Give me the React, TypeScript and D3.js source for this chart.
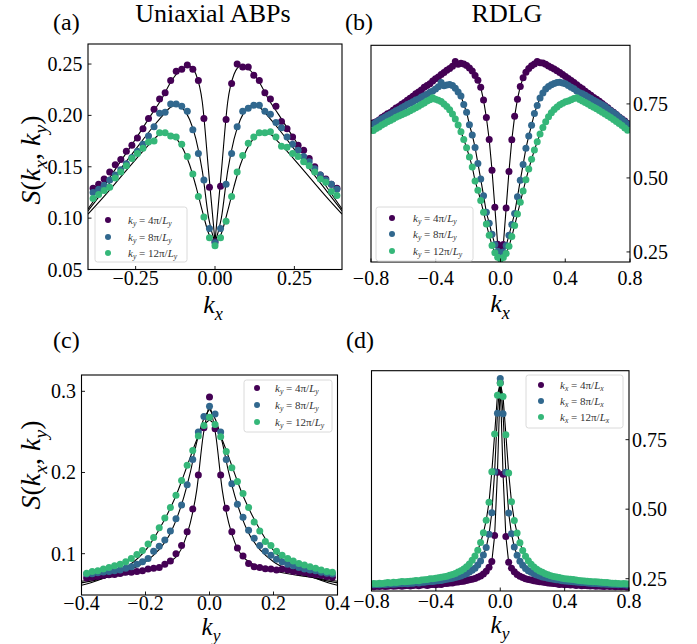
import React from 'react';
import * as d3 from 'd3';

const DK = (2 * Math.PI) / 360;
const nA = d3.range(-22, 23);
const nB = d3.range(-45, 46);
const COLORS = ['#440154', '#31688e', '#35b779'];

// Panel (a) Uniaxial ABPs, S(kx, ky) vs kx
const aPurple = [0.129,0.133,0.138,0.145,0.152,0.157,0.165,0.171,0.178,0.187,
  0.197,0.206,0.216,0.222,0.234,0.243,0.245,0.249,0.245,0.234,
  0.197,0.130,0.077,0.131,0.196,
  0.231,0.250,0.247,0.247,0.239,0.234,0.222,0.216,0.209,0.194,
  0.187,0.179,0.171,0.166,0.158,0.150,0.142,0.138,0.133,0.129];
const aBlue = [0.125,0.128,0.132,0.137,0.142,0.147,0.153,0.159,0.165,0.172,
  0.180,0.189,0.202,0.203,0.211,0.211,0.209,0.204,0.186,0.163,
  0.137,0.090,0.076,0.090,0.133,
  0.163,0.189,0.204,0.207,0.210,0.210,0.204,0.201,0.193,0.188,
  0.179,0.172,0.166,0.160,0.155,0.148,0.142,0.137,0.133,0.128];
const aGreen = [0.119,0.123,0.127,0.130,0.139,0.145,0.151,0.158,0.163,0.168,
  0.174,0.175,0.183,0.183,0.180,0.179,0.172,0.160,0.143,0.121,
  0.101,0.081,0.073,0.081,0.097,
  0.121,0.145,0.161,0.173,0.179,0.183,0.183,0.184,0.179,0.170,
  0.169,0.163,0.160,0.155,0.151,0.145,0.138,0.135,0.126,0.122];
const aFitX = [-0.4,-0.35,-0.3,-0.25,-0.2,-0.17,-0.14,-0.12,-0.1,-0.08,-0.06,-0.04,-0.02,0,0.02,0.04,0.06,0.08,0.1,0.12,0.14,0.17,0.2,0.25,0.3,0.35,0.4];
const aFitPurple = [0.109,0.131,0.154,0.177,0.201,0.215,0.232,0.241,0.246,0.248,0.240,0.213,0.145,0.077,0.145,0.213,0.240,0.248,0.246,0.241,0.232,0.215,0.201,0.177,0.154,0.131,0.109];
const aFitBlue = [0.107,0.127,0.147,0.167,0.187,0.198,0.208,0.210,0.206,0.196,0.177,0.146,0.100,0.076,0.100,0.146,0.177,0.196,0.206,0.210,0.208,0.198,0.187,0.167,0.147,0.127,0.107];
const aFitGreen = [0.104,0.121,0.139,0.157,0.174,0.182,0.182,0.177,0.167,0.152,0.131,0.107,0.085,0.074,0.085,0.107,0.131,0.152,0.167,0.177,0.182,0.182,0.174,0.157,0.139,0.121,0.104];

// Panel (b) RDLG, S vs kx
const bPurple = [0.686,0.690,0.696,0.704,0.710,0.717,0.721,0.729,0.736,0.741,
  0.749,0.755,0.762,0.769,0.776,0.784,0.790,0.797,0.806,0.812,
  0.818,0.827,0.835,0.841,0.849,0.856,0.864,0.870,0.877,0.893,
  0.884,0.887,0.885,0.880,0.871,0.861,0.846,0.830,0.806,0.763,
  0.704,0.630,0.526,0.401,0.276,
  0.262,
  0.275,0.398,0.522,0.629,0.708,
  0.766,0.809,0.838,0.857,0.870,0.879,0.885,0.893,0.889,0.888,
  0.884,0.878,0.873,0.868,0.862,0.856,0.849,0.843,0.836,0.829,
  0.822,0.815,0.807,0.801,0.793,0.786,0.779,0.772,0.766,0.759,
  0.751,0.744,0.737,0.729,0.722,0.714,0.706,0.699,0.692,0.684];
const bBlue = [0.682,0.688,0.694,0.700,0.705,0.711,0.716,0.721,0.727,0.731,
  0.737,0.742,0.748,0.752,0.757,0.763,0.767,0.773,0.778,0.783,
  0.789,0.794,0.800,0.808,0.822,0.811,0.814,0.816,0.812,0.803,
  0.790,0.777,0.748,0.722,0.680,0.645,0.603,0.549,0.496,0.440,
  0.384,0.347,0.310,0.275,0.252,
  0.240,
  0.250,0.272,0.306,0.343,0.380,
  0.436,0.492,0.545,0.600,0.642,0.678,0.718,0.745,0.770,0.787,
  0.800,0.809,0.815,0.819,0.822,0.823,0.821,0.818,0.812,0.806,
  0.801,0.794,0.788,0.784,0.779,0.773,0.768,0.762,0.757,0.752,
  0.747,0.741,0.734,0.727,0.720,0.713,0.705,0.697,0.690,0.681];
const bGreen = [0.660,0.667,0.672,0.679,0.684,0.690,0.694,0.699,0.705,0.709,
  0.713,0.718,0.722,0.727,0.732,0.737,0.742,0.748,0.753,0.760,
  0.764,0.771,0.766,0.762,0.758,0.750,0.741,0.730,0.716,0.699,
  0.679,0.656,0.630,0.602,0.571,0.537,0.490,0.458,0.424,0.384,
  0.344,0.306,0.272,0.247,0.232,
  0.226,
  0.231,0.245,0.269,0.302,0.339,
  0.378,0.418,0.456,0.494,0.530,0.563,0.594,0.622,0.648,0.670,
  0.690,0.707,0.720,0.731,0.740,0.747,0.752,0.757,0.760,0.764,
  0.768,0.771,0.765,0.760,0.755,0.750,0.744,0.739,0.734,0.728,
  0.722,0.716,0.710,0.704,0.697,0.691,0.684,0.677,0.669,0.661];

// Panel (c) Uniaxial ABPs, S vs ky
const cPurple = [0.070,0.071,0.072,0.073,0.074,0.0745,0.0755,0.077,0.077,0.078,
  0.079,0.081,0.082,0.083,0.087,0.091,0.100,0.110,0.127,0.155,
  0.197,0.255,0.293,0.254,0.197,
  0.156,0.127,0.107,0.097,0.088,0.084,0.083,0.0815,0.081,0.080,
  0.081,0.080,0.078,0.0775,0.0765,0.075,0.074,0.073,0.072,0.071];
const cBlue = [0.075,0.0754,0.0766,0.0775,0.078,0.079,0.080,0.082,0.084,0.087,
  0.090,0.094,0.103,0.109,0.117,0.128,0.143,0.160,0.185,0.216,
  0.250,0.269,0.2815,0.272,0.250,
  0.216,0.186,0.161,0.145,0.129,0.119,0.110,0.103,0.098,0.093,
  0.090,0.087,0.085,0.083,0.081,0.080,0.079,0.077,0.076,0.075];
const cGreen = [0.076,0.078,0.079,0.081,0.083,0.085,0.087,0.090,0.094,0.099,
  0.104,0.112,0.120,0.132,0.144,0.157,0.172,0.190,0.209,0.227,
  0.245,0.258,0.268,0.259,0.244,
  0.226,0.206,0.189,0.174,0.157,0.139,0.128,0.115,0.110,0.103,
  0.098,0.094,0.091,0.088,0.086,0.084,0.082,0.080,0.078,0.077];
const cFitX = [-0.4,-0.35,-0.3,-0.25,-0.2,-0.16,-0.12,-0.1,-0.08,-0.06,-0.04,-0.02,0,0.02,0.04,0.06,0.08,0.1,0.12,0.16,0.2,0.25,0.3,0.35,0.4];
const cFitPurple = [0.066,0.069,0.072,0.075,0.079,0.083,0.091,0.098,0.113,0.138,0.178,0.245,0.285,0.245,0.178,0.138,0.113,0.098,0.091,0.083,0.079,0.075,0.072,0.069,0.066];
const cFitBlue = [0.064,0.068,0.073,0.080,0.090,0.104,0.127,0.146,0.170,0.200,0.237,0.264,0.278,0.264,0.237,0.200,0.170,0.146,0.127,0.104,0.090,0.080,0.073,0.068,0.064];
const cFitGreen = [0.061,0.067,0.075,0.086,0.104,0.128,0.158,0.176,0.197,0.219,0.240,0.257,0.265,0.257,0.240,0.219,0.197,0.176,0.158,0.128,0.104,0.086,0.075,0.067,0.061];

// Panel (d) RDLG, S vs ky
const dPurple = [0.221,0.223,0.222,0.224,0.222,0.223,0.225,0.223,0.224,0.225,
  0.223,0.225,0.226,0.224,0.226,0.227,0.225,0.227,0.228,0.226,
  0.228,0.229,0.228,0.230,0.229,0.233,0.233,0.235,0.235,0.237,
  0.238,0.240,0.241,0.244,0.246,0.248,0.251,0.255,0.260,0.267,
  0.277,0.291,0.312,0.405,0.633,
  0.955,
  0.626,0.402,0.309,0.288,0.275,
  0.265,0.259,0.254,0.250,0.247,0.245,0.243,0.241,0.239,0.238,
  0.236,0.235,0.234,0.233,0.232,0.229,0.230,0.228,0.229,0.227,
  0.228,0.226,0.227,0.225,0.226,0.225,0.224,0.225,0.223,0.224,
  0.223,0.222,0.224,0.222,0.223,0.221,0.222,0.221,0.222,0.220];
const dBlue = [0.228,0.229,0.228,0.230,0.229,0.230,0.231,0.230,0.231,0.232,
  0.232,0.233,0.232,0.234,0.234,0.236,0.235,0.237,0.237,0.239,
  0.240,0.240,0.242,0.243,0.244,0.246,0.248,0.250,0.252,0.254,
  0.257,0.260,0.264,0.268,0.274,0.280,0.288,0.299,0.314,0.335,
  0.362,0.410,0.487,0.635,0.845,
  0.970,
  0.843,0.633,0.486,0.412,0.364,
  0.334,0.313,0.298,0.287,0.279,0.273,0.268,0.263,0.260,0.256,
  0.254,0.252,0.250,0.248,0.246,0.245,0.243,0.242,0.241,0.240,
  0.239,0.238,0.237,0.236,0.236,0.235,0.234,0.233,0.233,0.232,
  0.231,0.231,0.230,0.230,0.229,0.229,0.228,0.229,0.228,0.227];
const dGreen = [0.233,0.232,0.234,0.233,0.235,0.236,0.235,0.237,0.236,0.238,
  0.240,0.239,0.240,0.241,0.242,0.244,0.243,0.245,0.246,0.247,
  0.250,0.250,0.252,0.253,0.255,0.257,0.259,0.262,0.265,0.269,
  0.274,0.279,0.285,0.293,0.303,0.316,0.332,0.352,0.380,0.415,
  0.460,0.525,0.635,0.770,0.910,
  0.953,
  0.905,0.768,0.630,0.527,0.459,
  0.414,0.379,0.351,0.331,0.315,0.302,0.292,0.284,0.278,0.273,
  0.268,0.264,0.261,0.258,0.256,0.254,0.252,0.250,0.249,0.248,
  0.247,0.245,0.244,0.243,0.242,0.241,0.240,0.239,0.239,0.238,
  0.237,0.236,0.236,0.235,0.234,0.234,0.233,0.232,0.233,0.232];

const ticksA_x = [-0.25, 0, 0.25];
const ticksA_y = [0.05, 0.10, 0.15, 0.20, 0.25];
const ticksB_x = [-0.8, -0.4, 0, 0.4, 0.8];
const ticksB_y = [0.25, 0.5, 0.75];
const ticksC_x = [-0.4, -0.2, 0, 0.2, 0.4];
const ticksC_y = [0.1, 0.2, 0.3];

const FONT = 'Liberation Serif, DejaVu Serif, Times New Roman, serif';

type Part = { t: string; i?: boolean; s?: boolean };

function MText(props: { x: number; y: number; parts: Part[]; size: number; anchor?: string; rotate?: boolean; fill?: string }) {
  const { x, y, parts, size, anchor = 'middle', rotate = false, fill = '#000' } = props;
  let prevSub = false;
  const shift = size * 0.25;
  return (
    <text x={x} y={y} textAnchor={anchor} fill={fill}
      style={{ fontFamily: FONT, fontSize: size }}
      transform={rotate ? `rotate(-90 ${x} ${y})` : undefined}>
      {parts.map((p, k) => {
        let dy = 0;
        if (p.s && !prevSub) dy = shift;
        else if (!p.s && prevSub) dy = -shift;
        prevSub = !!p.s;
        return (
          <tspan key={k} dy={dy} style={{ fontStyle: p.i ? 'italic' : 'normal', fontSize: p.s ? size * 0.7 : size }}>{p.t}</tspan>
        );
      })}
    </text>
  );
}

function T(props: { x: number; y: number; size: number; anchor?: string; children: React.ReactNode }) {
  return (
    <text x={props.x} y={props.y} textAnchor={props.anchor || 'start'} style={{ fontFamily: FONT, fontSize: props.size }}>
      {props.children}
    </text>
  );
}

const minus = (s: string) => s.replace('-', '\u2212');

type PanelProps = {
  id: string;
  box: { l: number; r: number; t: number; b: number };
  xd: [number, number];
  yd: [number, number];
  xt: number[];
  xf: (v: number) => string;
  yt: number[];
  yf: (v: number) => string;
  side: 'left' | 'right';
  xLabBase: number;
  ns: number[];
  series: number[][];
  fitX?: number[];
  fits?: number[][];
  legend: { x: number; y: number; w: number; h: number; rows: number[]; mx: number; tx: number; axis: string };
};

function Panel(p: PanelProps) {
  const { box } = p;
  const x = d3.scaleLinear().domain(p.xd).range([box.l, box.r]);
  const y = d3.scaleLinear().domain(p.yd).range([box.b, box.t]);
  const clipId = `clip-${p.id}`;
  const lineGen = d3.line<[number, number]>().x((d) => x(d[0])).y((d) => y(d[1]));
  const fitLine = d3.line<[number, number]>().x((d) => x(d[0])).y((d) => y(d[1])).curve(d3.curveMonotoneX);

  const paths: string[] = [];
  if (p.fits && p.fitX) {
    p.fits.forEach((f) => {
      const pts: [number, number][] = p.fitX!.map((k, i) => [k, f[i]]);
      paths.push(fitLine(pts.filter((d) => d[0] <= 0)) || '');
      paths.push(fitLine(pts.filter((d) => d[0] >= 0)) || '');
    });
  } else {
    p.series.forEach((s) => {
      const pts: [number, number][] = p.ns.map((n, i) => [n * DK, s[i]]);
      paths.push(lineGen(pts) || '');
    });
  }
  const tickLen = 3.5;
  const labels: Part[][] = ['4', '8', '12'].map((m) => [
    { t: 'k', i: true },
    { t: p.legend.axis, i: true, s: true },
    { t: ` = ${m}\u03c0/` },
    { t: 'L', i: true },
    { t: p.legend.axis, i: true, s: true },
  ]);
  return (
    <g>
      <defs>
        <clipPath id={clipId}>
          <rect x={box.l} y={box.t} width={box.r - box.l} height={box.b - box.t} />
        </clipPath>
      </defs>
      <g clipPath={`url(#${clipId})`}>
        {paths.map((d, i) => (
          <path key={i} d={d} fill="none" stroke="#000" strokeWidth={1.1} />
        ))}
        {p.series.map((s, si) => (
          <g key={si} fill={COLORS[si]}>
            {p.ns.map((n, i) => (
              <circle key={i} cx={x(n * DK)} cy={y(s[i])} r={3.5} />
            ))}
          </g>
        ))}
      </g>
      {p.xt.map((t, i) => (
        <g key={`xt${i}`}>
          <line x1={x(t)} x2={x(t)} y1={box.b} y2={box.b - tickLen} stroke="#000" strokeWidth={0.9} />
          <T x={x(t)} y={p.xLabBase} size={20} anchor="middle">{minus(p.xf(t))}</T>
        </g>
      ))}
      {p.yt.map((t, i) => {
        const yy = y(t);
        const left = p.side === 'left';
        const ax = left ? box.l : box.r;
        return (
          <g key={`yt${i}`}>
            <line x1={ax} x2={left ? ax + tickLen : ax - tickLen} y1={yy} y2={yy} stroke="#000" strokeWidth={0.9} />
            <T x={left ? ax - 5.5 : ax + 3} y={yy + 7} size={20} anchor={left ? 'end' : 'start'}>{p.yf(t)}</T>
          </g>
        );
      })}
      <rect x={box.l} y={box.t} width={box.r - box.l} height={box.b - box.t} fill="none" stroke="#000" strokeWidth={1.1} />
      <g>
        <rect x={p.legend.x} y={p.legend.y} width={p.legend.w} height={p.legend.h} rx={2.5} fill="#fff" fillOpacity={0.8} stroke="#d6d6d6" strokeWidth={0.9} />
        {p.legend.rows.map((ry, i) => (
          <g key={i}>
            <circle cx={p.legend.mx} cy={ry} r={3} fill={COLORS[i]} />
            <MText x={p.legend.tx} y={ry + 3.5} parts={labels[i]} size={11} anchor="start" fill="#333" />
          </g>
        ))}
      </g>
    </g>
  );
}

export default function App() {
  const f2 = (v: number) => d3.format('.2f')(v);
  const f1 = (v: number) => d3.format('.1f')(v);
  const sLabel: Part[] = [
    { t: 'S', i: true }, { t: '(' }, { t: 'k', i: true }, { t: 'x', i: true, s: true },
    { t: ', ' }, { t: 'k', i: true }, { t: 'y', i: true, s: true }, { t: ')' },
  ];
  const kx: Part[] = [{ t: 'k', i: true }, { t: 'x', i: true, s: true }];
  const ky: Part[] = [{ t: 'k', i: true }, { t: 'y', i: true, s: true }];
  return (
    <svg width={697} height={644} style={{ position: 'absolute', left: 0, top: 0, background: '#fff', fontFamily: FONT }}>
      <rect x={0} y={0} width={697} height={644} fill="#fff" />
      <T x={213} y={22} size={26} anchor="middle">Uniaxial ABPs</T>
      <T x={507} y={22} size={26} anchor="middle">RDLG</T>
      <T x={53} y={30} size={24}>(a)</T>
      <T x={345} y={30} size={24}>(b)</T>
      <T x={53} y={348} size={24}>(c)</T>
      <T x={346} y={348} size={24}>(d)</T>

      <Panel id="a" box={{ l: 88, r: 342, t: 44, b: 269.5 }} xd={[-0.4, 0.4]} yd={[0.05, 0.2695]}
        xt={ticksA_x} xf={f2} yt={ticksA_y} yf={f2} side="left" xLabBase={285}
        ns={nA} series={[aPurple, aBlue, aGreen]} fitX={aFitX} fits={[aFitPurple, aFitBlue, aFitGreen]}
        legend={{ x: 95, y: 207, w: 92, h: 55, rows: [220, 237, 253], mx: 108, tx: 128, axis: 'y' }} />
      <Panel id="b" box={{ l: 371, r: 630, t: 45.3, b: 262 }} xd={[-0.8, 0.8]} yd={[0.216, 0.948]}
        xt={ticksB_x} xf={f1} yt={ticksB_y} yf={f2} side="right" xLabBase={285}
        ns={nB} series={[bPurple, bBlue, bGreen]}
        legend={{ x: 376, y: 207, w: 97, h: 54, rows: [218, 234, 251], mx: 392, tx: 413, axis: 'y' }} />
      <Panel id="c" box={{ l: 81.5, r: 337.5, t: 375, b: 595 }} xd={[-0.4, 0.4]} yd={[0.0491, 0.3201]}
        xt={ticksC_x} xf={f1} yt={ticksC_y} yf={f1} side="left" xLabBase={610}
        ns={nA} series={[cPurple, cBlue, cGreen]} fitX={cFitX} fits={[cFitPurple, cFitBlue, cFitGreen]}
        legend={{ x: 244, y: 380, w: 88, h: 52, rows: [388, 405, 422], mx: 257, tx: 275, axis: 'y' }} />
      <Panel id="d" box={{ l: 371.5, r: 629, t: 370.7, b: 591 }} xd={[-0.8, 0.8]} yd={[0.2058, 0.998]}
        xt={ticksB_x} xf={f1} yt={ticksB_y} yf={f2} side="right" xLabBase={608}
        ns={nB} series={[dPurple, dBlue, dGreen]}
        legend={{ x: 526, y: 375, w: 97, h: 53, rows: [385, 401, 417], mx: 541, tx: 560, axis: 'x' }} />

      <MText x={40} y={160} parts={sLabel} size={28} rotate />
      <MText x={40} y={465} parts={sLabel} size={28} rotate />
      <MText x={213} y={313} parts={kx} size={26} />
      <MText x={500} y={312} parts={kx} size={26} />
      <MText x={211} y={635} parts={ky} size={25} />
      <MText x={500} y={633} parts={ky} size={25} />
    </svg>
  );
}
